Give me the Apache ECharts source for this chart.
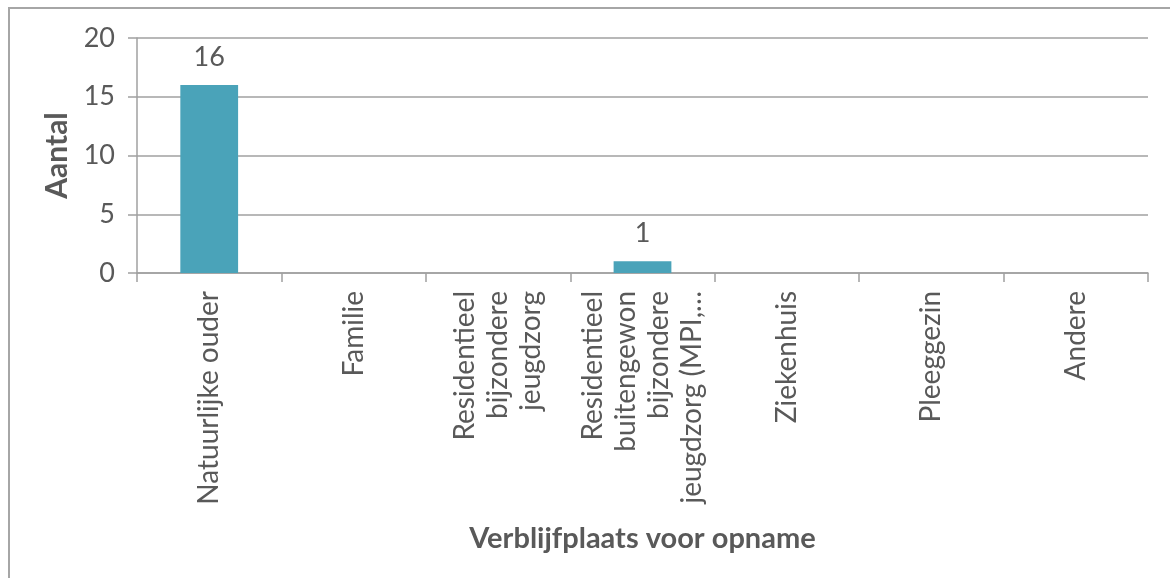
<!DOCTYPE html>
<html>
<head>
<meta charset="utf-8">
<script src="https://cdn.jsdelivr.net/npm/echarts@6/dist/echarts.min.js"></script>
<style>
  html, body { margin: 0; padding: 0; background: #fff; }
  #chart { width: 1170px; height: 578px; }
  #frame { position: absolute; left: 8px; top: 7px; width: 1200px; height: 600px;
           border: 2px solid #a6a6a6; pointer-events: none; }
</style>
</head>
<body>
<div id="chart"></div>
<div id="frame"></div>
<script>
const categories = [
  'Natuurlijke ouder',
  'Familie',
  'Residentieel\nbijzondere\njeugdzorg',
  'Residentieel\nbuitengewon\nbijzondere\njeugdzorg (MPI,…',
  'Ziekenhuis',
  'Pleeggezin',
  'Andere'
];
const values = [16, 0, 0, 1, 0, 0, 0];
const yTicks = { min: 0, max: 20, interval: 5 };
const yAxisTitle = 'Aantal';
const xAxisTitle = 'Verblijfplaats voor opname';

const FONT = 'Lato';
const TXT = '#595959';
const chart = echarts.init(document.getElementById('chart'), null, { renderer: 'canvas' });
chart.setOption({
  animation: false,
  grid: { left: 137, right: 22, top: 38, bottom: 305, containLabel: false },
  xAxis: {
    type: 'category',
    data: categories,
    name: xAxisTitle,
    nameLocation: 'middle',
    nameGap: 251,
    nameTextStyle: { fontFamily: FONT, fontSize: 29, fontWeight: 'bold', color: TXT },
    axisLine: { lineStyle: { color: '#a0a0a0', width: 1.5 } },
    axisTick: { show: true, length: 9, lineStyle: { color: '#a0a0a0', width: 1.5 } },
    axisLabel: {
      rotate: 90, interval: 0, margin: 18,
      fontFamily: FONT, fontSize: 28, color: TXT, lineHeight: 33
    }
  },
  yAxis: {
    type: 'value',
    min: yTicks.min, max: yTicks.max, interval: yTicks.interval,
    name: yAxisTitle,
    nameLocation: 'middle',
    nameGap: 62,
    nameTextStyle: { fontFamily: FONT, fontSize: 30, fontWeight: 'bold', color: TXT },
    axisLine: { show: true, lineStyle: { color: '#a0a0a0', width: 1.5 } },
    axisTick: { show: true, length: 9, lineStyle: { color: '#a0a0a0', width: 1.5 } },
    axisLabel: { margin: 22, fontFamily: FONT, fontSize: 27, color: TXT },
    splitLine: { show: true, lineStyle: { color: '#a0a0a0', width: 1.5 } }
  },
  series: [{
    type: 'bar',
    data: values,
    barWidth: '40%',
    itemStyle: { color: '#4aa3b9' },
    label: {
      show: true, position: 'top', distance: 14,
      fontFamily: FONT, fontSize: 27, color: TXT,
      formatter: p => (p.value > 0 ? String(p.value) : '')
    }
  }]
});
</script>
</body>
</html>
